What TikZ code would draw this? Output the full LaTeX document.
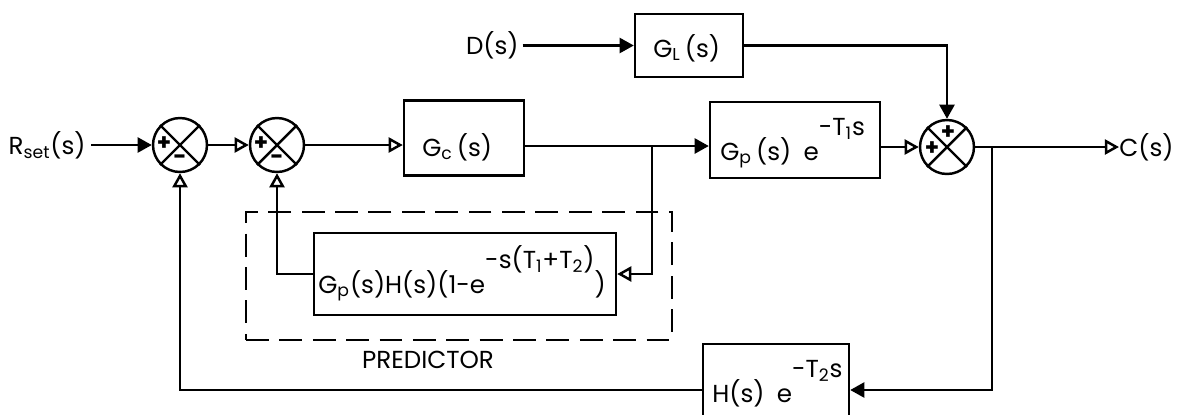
\documentclass[tikz,border=0pt]{standalone}
\usepackage{fontspec}
\setmainfont{Poppins}
\usetikzlibrary{arrows.meta,positioning}

\tikzset{
  block/.style={draw, line width=1.4pt, inner sep=0pt},
  sumnode/.style={draw, circle, line width=1.4pt, minimum size=1.08cm, inner sep=0pt},
  lbl/.style={inner sep=0pt, font=\fontsize{14}{16}\selectfont},
  sgn/.style={inner sep=0pt, font=\fontsize{13}{14}\selectfont\bfseries},
  fillarr/.style={line width=1.4pt, -{Triangle[length=8pt, width=8.5pt]}},
  openarr/.style={line width=1.4pt, -{Triangle[open, length=8pt, width=8.5pt]}},
}

\begin{document}
\begin{tikzpicture}[x=0.02cm, y=-0.02cm]
\useasboundingbox (0,0) rectangle (1178,414);
\clip (0,0) rectangle (1178,414);

% summing points
\node[sumnode] (s1) at (180,145) {};
\node[sumnode] (s2) at (277,145) {};
\node[sumnode] (s3) at (947,147) {};
\foreach \s in {s1,s2,s3} {
  \draw[line width=1.4pt] (\s.north west) -- (\s.south east);
  \draw[line width=1.4pt] (\s.north east) -- (\s.south west);
}
\node[sgn] (p1) at ([shift={(-16,-1)}]s1) {+};
\node[sgn] (m1) at ([shift={(0,15)}]s1) {-};
\node[sgn] (p2) at ([shift={(-16,-1)}]s2) {+};
\node[sgn] (m2) at ([shift={(0,15)}]s2) {-};
\node[sgn] (p3a) at ([shift={(1,-14)}]s3) {+};
\node[sgn] (p3b) at ([shift={(-15,2)}]s3) {+};

% blocks
\node[block, minimum width=2.4cm, minimum height=1.5cm] (gc) at (464,138) {};
\node[block, minimum width=3.4cm, minimum height=1.52cm] (gp) at (795,140) {};
\node[block, minimum width=2.16cm, minimum height=1.26cm] (gl) at (689,45.5) {};
\node[block, minimum width=6.04cm, minimum height=1.64cm] (pre) at (465,274) {};
\node[block, minimum width=2.92cm, minimum height=1.84cm] (hb) at (776,390) {};
\node[draw, line width=1.4pt, dash pattern=on 13pt off 6pt, inner sep=0pt,
      minimum width=8.52cm, minimum height=2.56cm] (predbox) at (459,276) {};

% block texts
\node[lbl, anchor=base west] (gctxt) at (422,156) {G\textsubscript{c}\,(s)};
\node[lbl, anchor=base west] (gptxt) at (720,160) {G\textsubscript{p}\,(s)\enspace e\raisebox{1em}{-T\textsubscript{1}s}};
\node[lbl, anchor=base west] (gltxt) at (653,57) {G\textsubscript{L}\,(s)};
\node[lbl, anchor=base west] (pretxt) at (318,293) {G\textsubscript{p}(s)H(s)(1-e\raisebox{1em}{-s(T\textsubscript{1}+T\textsubscript{2})})};
\node[lbl, anchor=base west] (hbtxt) at (712,402) {H(s)\enspace e\raisebox{1em}{-T\textsubscript{2}s}};
\node[lbl] (predlbl) at (428,360) {PREDICTOR};

% inputs and output
\node[lbl, anchor=east] (rset) at (86,145) {R\textsubscript{set}(s)};
\node[lbl, anchor=east] (dlab) at (519,45.5) {D(s)};
\node[lbl, anchor=west] (cout) at (1119,147) {C(s)};
\coordinate (br1) at (652,146);
\coordinate (br2) at (992,147);

% connections
\draw[fillarr] ([xshift=3pt]rset.east) -- (s1.west);
\draw[openarr] (s1.east) -- (s2.west);
\draw[openarr] (s2.east) -- (s2 -| gc.west);
\draw[fillarr] (gc.east |- br1) -- (gp.west |- br1);
\draw[openarr] (gp.east |- s3) -- (s3.west);
\draw[openarr] (s3.east) -- (cout.west);
\draw[fillarr] ([xshift=2pt]dlab.east) -- (gl.west);
\draw[fillarr] (gl.east) -| (s3.north);
\draw[openarr] (br1) |- (pre.east);
\draw[openarr] (pre.west) -| (s2.south);
\draw[fillarr] (br2) |- (hb.east);
\draw[openarr] (hb.west) -| (s1.south);
\end{tikzpicture}
\end{document}
